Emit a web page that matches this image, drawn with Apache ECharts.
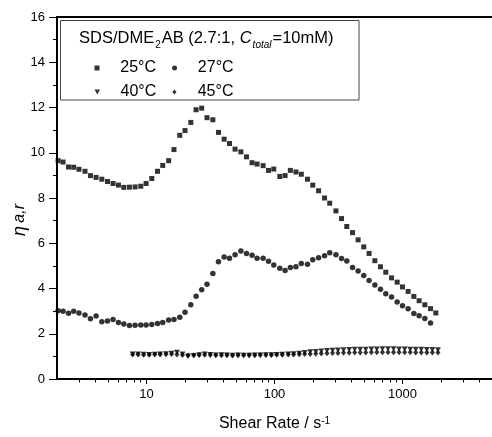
<!DOCTYPE html>
<html>
<head>
<meta charset="utf-8">
<script src="https://cdn.jsdelivr.net/npm/echarts@6/dist/echarts.min.js"></script>
<style>
  html, body { margin: 0; padding: 0; background: #fff; }
  #main { width: 492px; height: 437px; }
</style>
</head>
<body>
<div id="main"></div>
<script>
// shear rate (s^-1) for the 25 and 27 C runs
const shearRate = [
  2.04, 2.23, 2.46, 2.70, 2.97, 3.31, 3.65, 4.04, 4.48, 4.96,
  5.48, 6.04, 6.65, 7.36, 8.15, 9.03, 9.93, 11.0, 12.2, 13.4,
  14.9, 16.4, 18.2, 20.0, 22.2, 24.4, 27.0, 29.7, 33.0, 36.5,
  40.4, 44.5, 49.2, 54.6, 60.4, 66.8, 73.1, 81.5, 89.8, 98.7,
  110, 121, 133, 147, 162, 181, 199, 221, 246, 270,
  302, 334, 367, 407, 450, 498, 548, 608, 673, 740,
  821, 908, 1000, 1106, 1226, 1348, 1494, 1655, 1820
];
const visc25 = [
  9.65, 9.59, 9.37, 9.36, 9.27, 9.18, 8.99, 8.91, 8.83, 8.73,
  8.64, 8.57, 8.47, 8.48, 8.49, 8.52, 8.64, 8.86, 9.18, 9.44,
  9.65, 10.14, 10.77, 10.98, 11.34, 11.90, 11.97, 11.55, 11.46, 10.90,
  10.60, 10.41, 10.16, 10.04, 9.82, 9.56, 9.50, 9.43, 9.22, 9.28,
  8.95, 8.99, 9.22, 9.15, 9.05, 8.83, 8.57, 8.32, 8.00, 7.77,
  7.43, 7.09, 6.74, 6.47, 6.15, 5.84, 5.55, 5.23, 4.96, 4.72,
  4.47, 4.28, 4.07, 3.87, 3.65, 3.46, 3.28, 3.11, 2.92
];
const visc27 = [
  3.02, 2.99, 2.91, 2.99, 2.92, 2.83, 2.66, 2.78, 2.53, 2.56,
  2.63, 2.50, 2.43, 2.36, 2.38, 2.39, 2.39, 2.41, 2.45, 2.50,
  2.61, 2.63, 2.73, 2.95, 3.28, 3.66, 3.94, 4.19, 4.66, 5.18,
  5.39, 5.34, 5.49, 5.66, 5.55, 5.47, 5.34, 5.34, 5.20, 5.04,
  4.90, 4.80, 4.93, 4.96, 5.11, 5.07, 5.27, 5.36, 5.45, 5.58,
  5.49, 5.33, 5.22, 4.93, 4.77, 4.57, 4.35, 4.16, 3.97, 3.77,
  3.62, 3.40, 3.24, 3.10, 2.89, 2.80, 2.67, 2.48
];

// shear rate for the 40 and 45 C runs
const shearRateHot = [
  7.8, 8.6, 9.5, 10.5, 11.6, 12.8, 14.2, 15.7, 17.3, 19.1,
  21.1, 23.4, 25.8, 28.5, 31.5, 34.8, 38.5, 42.5, 47.0, 51.9,
  57.4, 63.4, 70.1, 77.4, 85.6, 94.5, 104, 115, 128, 141,
  156, 172, 190, 210, 232, 257, 284, 313, 346, 383,
  423, 467, 516, 571, 630, 697, 770, 851, 940, 1039,
  1148, 1268, 1401, 1548, 1711, 1891
];
const visc40 = [
  1.10, 1.10, 1.09, 1.08, 1.09, 1.10, 1.12, 1.14, 1.18, 1.10,
  1.02, 1.04, 1.07, 1.10, 1.08, 1.06, 1.07, 1.06, 1.05, 1.06,
  1.05, 1.05, 1.06, 1.06, 1.07, 1.07, 1.08, 1.09, 1.10, 1.12,
  1.14, 1.17, 1.20, 1.22, 1.24, 1.26, 1.27, 1.28, 1.29, 1.30,
  1.31, 1.32, 1.32, 1.33, 1.33, 1.34, 1.34, 1.34, 1.33, 1.33,
  1.32, 1.32, 1.31, 1.30, 1.30, 1.29
];
const visc45 = [
  1.08, 1.08, 1.07, 1.07, 1.08, 1.08, 1.09, 1.10, 1.08, 1.06,
  1.04, 1.05, 1.06, 1.07, 1.06, 1.05, 1.05, 1.05, 1.04, 1.05,
  1.05, 1.05, 1.05, 1.06, 1.06, 1.06, 1.07, 1.07, 1.08, 1.08,
  1.09, 1.10, 1.11, 1.12, 1.13, 1.14, 1.15, 1.15, 1.16, 1.16,
  1.17, 1.17, 1.17, 1.18, 1.18, 1.18, 1.18, 1.18, 1.18, 1.18,
  1.18, 1.17, 1.17, 1.17, 1.17, 1.17
];

const xLabelTicks = [10, 100, 1000];
const xMinorTicks = [
  3, 4, 5, 6, 7, 8, 9,
  20, 30, 40, 50, 60, 70, 80, 90,
  200, 300, 400, 500, 600, 700, 800, 900,
  2000, 3000, 4000
];

const FONT = '"Liberation Sans", Arial, sans-serif';

function pairs(xs, ys) {
  const out = [];
  const n = Math.min(xs.length, ys.length);
  for (let i = 0; i < n; i++) out.push([xs[i], ys[i]]);
  return out;
}

const chart = echarts.init(document.getElementById('main'), null, { renderer: 'canvas' });

const xBase = { type: 'log', logBase: 10, min: 2, max: 5000, gridIndex: 0, splitLine: { show: false } };

const legendBase = {
  left: 94.5, padding: 0, itemGap: 16, z: 20,
  itemWidth: 36.6, itemHeight: 5,
  selectedMode: false,
  textStyle: { fontSize: 16, lineHeight: 16, color: '#000', fontFamily: FONT }
};

const option = {
  backgroundColor: '#fff',
  animation: false,
  textStyle: { fontFamily: FONT, color: '#000' },
  grid: { left: 57, right: 0, top: 17, bottom: 54, containLabel: false },
  xAxis: [
    Object.assign({}, xBase, {
      position: 'bottom',
      axisLine: { lineStyle: { color: '#000', width: 2 } },
      axisTick: { show: true, customValues: xLabelTicks, length: 5, lineStyle: { color: '#000', width: 1 } },
      axisLabel: {
        customValues: xLabelTicks, fontSize: 13, color: '#000', margin: 9, fontFamily: FONT,
        formatter: v => String(v)
      },
      name: 'Shear Rate / s{sup|-1}',
      nameLocation: 'middle',
      nameGap: 37,
      nameTextStyle: {
        fontSize: 16, color: '#000', fontFamily: FONT,
        rich: { sup: { fontSize: 10, verticalAlign: 'top', fontFamily: FONT, padding: [0, 0, 6, 0] } }
      }
    }),
    Object.assign({}, xBase, {
      position: 'top',
      axisLine: { lineStyle: { color: '#000', width: 2 } },
      axisTick: { show: false },
      axisLabel: { show: false }
    }),
    Object.assign({}, xBase, {
      position: 'bottom',
      axisLine: { show: false },
      axisTick: { show: true, customValues: xMinorTicks, length: 3.5, lineStyle: { color: '#000', width: 1 } },
      axisLabel: { show: false }
    })
  ],
  yAxis: {
    type: 'value',
    min: 0,
    max: 16,
    interval: 2,
    axisLine: { show: true, lineStyle: { color: '#000', width: 2 } },
    axisTick: { show: true, length: 8, lineStyle: { color: '#000', width: 1 } },
    minorTick: { show: true, splitNumber: 2, length: 4, lineStyle: { color: '#000', width: 1 } },
    axisLabel: { fontSize: 13, color: '#000', margin: 12, fontFamily: FONT },
    splitLine: { show: false }
  },
  legend: [
    Object.assign({}, legendBase, {
      top: 60,
      data: [
        { name: '25°C', icon: 'path://M0,0H1V1H0Z' },
        { name: '27°C', icon: 'circle' }
      ]
    }),
    Object.assign({}, legendBase, {
      top: 84,
      data: [
        { name: '40°C', icon: 'path://M0,0L2,0L1,1.8Z' },
        { name: '45°C', icon: 'path://M1,0L2,1.2L1,2.4L0,1.2Z' }
      ]
    })
  ],
  graphic: [
    {
      type: 'rect',
      z: 1,
      shape: { x: 60.5, y: 20.5, width: 298.5, height: 79.5 },
      style: { fill: null, stroke: '#444', lineWidth: 1 }
    },
    {
      type: 'text',
      z: 11,
      x: 79, y: 38,
      style: {
        text: '{n|SDS/DME}{sub|2}{n|AB (2.7:1, }{c|C}{isub|total}{n|=10mM)}',
        textVerticalAlign: 'middle',
        fill: '#000',
        rich: {
          n: { fontSize: 16.5, fontFamily: FONT, fill: '#000' },
          sub: { fontSize: 10, lineHeight: 25, fontFamily: FONT, verticalAlign: 'bottom', padding: [0, 1, 0, 1] },
          c: { fontSize: 16.5, fontStyle: 'italic', fontFamily: FONT },
          isub: { fontSize: 10, lineHeight: 25, fontStyle: 'italic', fontFamily: FONT, verticalAlign: 'bottom', padding: [0, 1, 0, 1] }
        }
      }
    },
    {
      type: 'text',
      x: 20, y: 220,
      rotation: Math.PI / 2,
      style: {
        text: '{e|η} {i|a,r}',
        textAlign: 'center',
        textVerticalAlign: 'middle',
        fill: '#000',
        rich: {
          e: { fontSize: 18, fontStyle: 'italic', fontFamily: FONT },
          i: { fontSize: 16, fontStyle: 'italic', fontFamily: FONT }
        }
      }
    }
  ],
  series: [
    {
      name: '25°C', type: 'scatter', xAxisIndex: 0,
      symbol: 'rect', symbolSize: 5,
      itemStyle: { color: '#000' },
      data: pairs(shearRate, visc25)
    },
    {
      name: '27°C', type: 'scatter', xAxisIndex: 0,
      symbol: 'circle', symbolSize: 5.5,
      itemStyle: { color: '#000' },
      data: pairs(shearRate, visc27)
    },
    {
      name: '40°C', type: 'scatter', xAxisIndex: 0,
      symbol: 'triangle', symbolRotate: 180, symbolSize: [6, 5],
      itemStyle: { color: '#000' },
      data: pairs(shearRateHot, visc40)
    },
    {
      name: '45°C', type: 'scatter', xAxisIndex: 0,
      symbol: 'diamond', symbolSize: [5, 6],
      itemStyle: { color: '#000' },
      data: pairs(shearRateHot, visc45)
    }
  ]
};

chart.setOption(option);
</script>
</body>
</html>
